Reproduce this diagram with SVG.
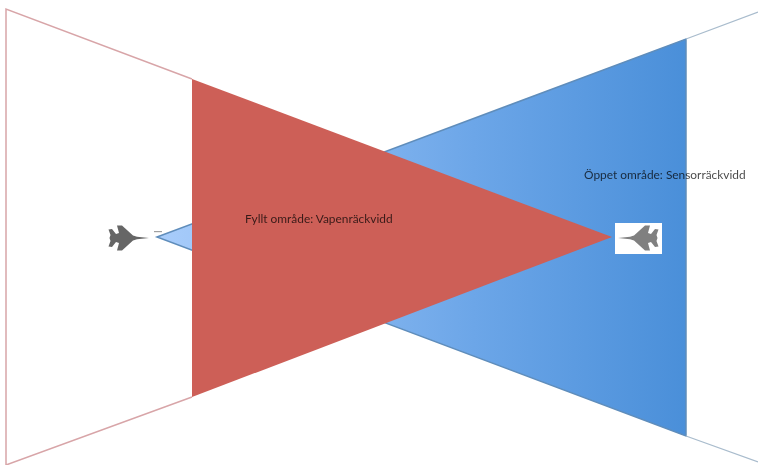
<svg xmlns="http://www.w3.org/2000/svg" width="758" height="465" viewBox="0 0 758 465">
<style>
.lbl{font-family:"Lato","Open Sans","Liberation Sans",sans-serif;font-size:11.9px;fill:#000;opacity:.72}
</style>
<defs>
<linearGradient id="blue" gradientUnits="userSpaceOnUse" x1="155" y1="0" x2="686" y2="0">
<stop offset="0" stop-color="#a9cdfb"/>
<stop offset=".6" stop-color="#6ca6e8"/>
<stop offset="1" stop-color="#4a8fd9"/>
</linearGradient>
<filter id="soft" x="-10%" y="-10%" width="120%" height="120%"><feGaussianBlur stdDeviation=".5"/></filter>
<path id="jetshape" d="M22 0 L10 -1.2 L6 -2.5 L-5 -12.5 L-10 -12.5 L-8 -5 L-11 -4 L-15 -9 L-18.5 -8.5 L-16.5 -3 L-17.5 0 L-16.5 3 L-18.5 8.5 L-15 9 L-11 4 L-8 5 L-10 12.5 L-5 12.5 L6 2.5 L10 1.2 Z"/>
</defs>
<rect width="758" height="465" fill="#fff"/>
<g id="sensor-range">
<polygon points="157,237 686,39 686,436" fill="url(#blue)" stroke="#5f8dbb" stroke-width="1.5"/>
<path d="M686 39 L758 12 M686 436 L758 462" fill="none" stroke="#a9bccd" stroke-width="1.3"/>
</g>
<g id="weapon-range">
<polygon points="192,79 612,237 192,397" fill="#cd5f57"/>
<path d="M192 79 L6 9 L6 465 L192 397" fill="none" stroke="#d8a5a8" stroke-width="1.5"/>
</g>
<g id="jet-left">
<use href="#jetshape" fill="#666" filter="url(#soft)" transform="translate(127,238)"/>
<rect x="154" y="231" width="8" height="1.2" fill="#a0a0a0"/>
</g>
<g id="jet-right">
<rect x="615" y="223" width="47" height="31" fill="#fff"/>
<use href="#jetshape" fill="#808080" filter="url(#soft)" transform="translate(640,238) scale(-1,1)"/>
</g>
<g id="labels">
<text class="lbl" x="245" y="223">Fyllt område: Vapenräckvidd</text>
<text class="lbl" x="584" y="179">Öppet område: Sensorräckvidd</text>
</g>
</svg>
